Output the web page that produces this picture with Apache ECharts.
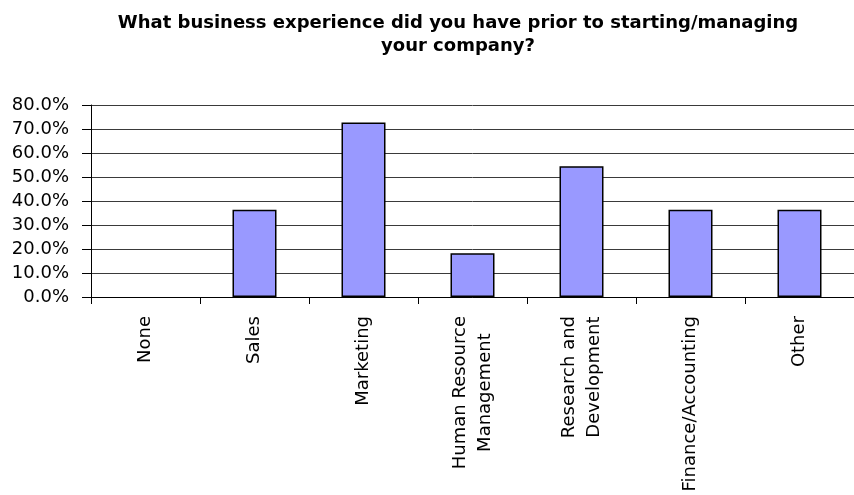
<!DOCTYPE html>
<html>
<head>
<meta charset="utf-8">
<script src="https://cdn.jsdelivr.net/npm/echarts@6/dist/echarts.min.js"></script>
<style>
  html, body { margin: 0; padding: 0; background: #fff; }
  #chart { width: 854px; height: 495px; }
</style>
</head>
<body>
<div id="chart"></div>
<script>
// Survey answers: prior business experience (share of respondents, %)
const categories = [
  'None',
  'Sales',
  'Marketing',
  'Human Resource\nManagement',
  'Research and\nDevelopment',
  'Finance/Accounting',
  'Other'
];
const shares = [0, 36.4, 72.7, 18.2, 54.5, 36.4, 36.4];
const yTicks = [0, 10, 20, 30, 40, 50, 60, 70, 80];

const titleText = 'What business experience did you have prior to starting/managing\nyour company?';
const labelFont = '"DejaVu Sans", sans-serif';

// Empty answers get no outline so a zero bar leaves nothing on the axis
const barData = shares.map(function (v) {
  return v === 0 ? { value: v, itemStyle: { borderWidth: 0 } } : v;
});

const chart = echarts.init(document.getElementById('chart'), null, { renderer: 'canvas' });

chart.setOption({
  animation: false,
  backgroundColor: '#ffffff',
  title: {
    text: titleText,
    left: 453,
    top: 7,
    textAlign: 'center',
    textStyle: {
      fontFamily: '"DejaVu Sans", sans-serif',
      fontWeight: 'bold',
      fontSize: 18,
      lineHeight: 23,
      color: '#000'
    }
  },
  grid: {
    left: 91,
    right: 0,
    top: 105,
    bottom: 198,
    containLabel: false
  },
  xAxis: {
    type: 'category',
    data: categories,
    boundaryGap: true,
    axisLine: { show: true, lineStyle: { color: '#000', width: 1 } },
    axisTick: { show: true, length: 7, alignWithLabel: false, lineStyle: { color: '#000' } },
    axisLabel: {
      interval: 0,
      rotate: 90,
      margin: 19,
      color: '#000',
      fontFamily: labelFont,
      fontSize: 18,
      lineHeight: 25,
      formatter: function (v) {
        return v.split('\n').map(function (s) { return '{c|' + s + '}'; }).join('\n');
      },
      rich: {
        c: {
          align: 'center',
          fontFamily: labelFont,
          fontSize: 18,
          lineHeight: 25,
          color: '#000'
        }
      }
    }
  },
  yAxis: {
    type: 'value',
    min: yTicks[0],
    max: yTicks[yTicks.length - 1],
    interval: yTicks[1] - yTicks[0],
    axisLine: { show: true, lineStyle: { color: '#000', width: 1 } },
    axisTick: { show: true, length: 9, lineStyle: { color: '#000' } },
    splitLine: { show: true, lineStyle: { color: '#3a3a3a', width: 1 } },
    axisLabel: {
      margin: 22,
      color: '#000',
      fontFamily: labelFont,
      fontSize: 18,
      formatter: function (v) { return v.toFixed(1) + '%'; }
    }
  },
  series: [{
    type: 'bar',
    data: barData,
    barWidth: 44,
    itemStyle: {
      color: '#9999FF',
      borderColor: '#000',
      borderWidth: 1.5
    }
  }]
});
</script>
</body>
</html>
